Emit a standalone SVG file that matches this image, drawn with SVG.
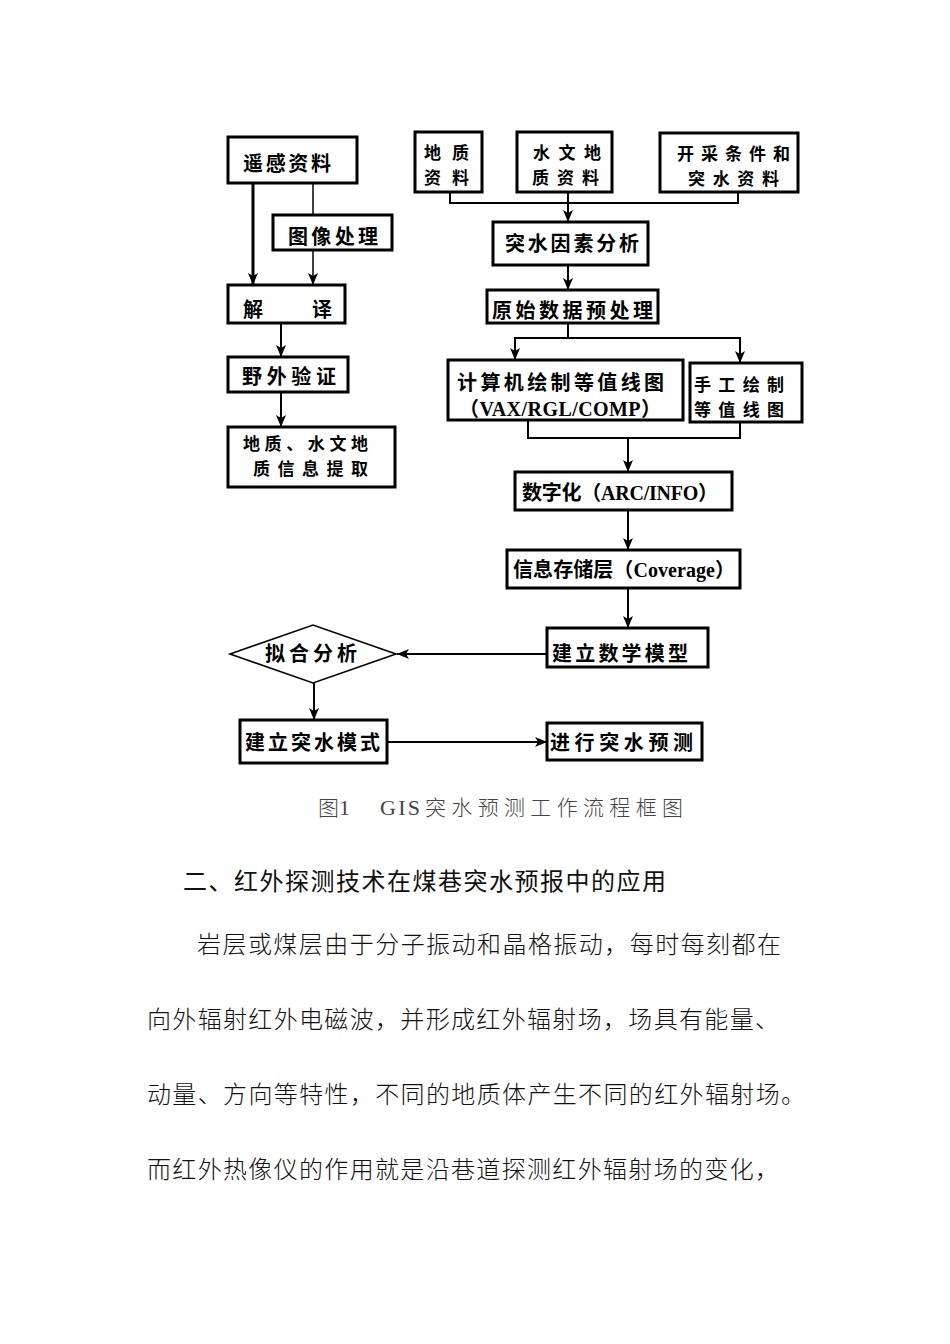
<svg xmlns="http://www.w3.org/2000/svg" width="950" height="1344" viewBox="0 0 950 1344">
<defs>
<style>
.box{fill:#fff;stroke:#000;stroke-width:3}
.dia{fill:#fff;stroke:#000;stroke-width:1.6}
.n{font-family:"Noto Sans CJK SC","Noto Sans CJK TC",sans-serif;font-weight:700;font-size:20px;fill:#000}
.n2{font-family:"Noto Sans CJK SC","Noto Sans CJK TC",sans-serif;font-weight:700;font-size:17px;fill:#000}
.lat{font-family:"Liberation Serif","Noto Sans CJK SC",serif;font-weight:700}
.c{fill:none;stroke:#000;stroke-width:2}
.ca{fill:none;stroke:#000;stroke-width:2;marker-end:url(#ah)}
.thin{stroke-width:1.5}
.thick{stroke-width:3}
.cap{font-family:"Liberation Serif","Noto Sans CJK SC",serif;font-size:22px;fill:#444;font-weight:300}
.capc{font-family:"Noto Sans CJK SC",serif;font-size:21px;fill:#444;font-weight:300}
.h{font-family:"Noto Sans CJK SC",sans-serif;font-size:24px;fill:#111;font-weight:400}
.b{font-family:"Noto Sans CJK SC",sans-serif;font-size:24px;fill:#111;font-weight:300}
</style>
<marker id="ah" markerUnits="userSpaceOnUse" markerWidth="14" markerHeight="12" refX="12" refY="5" orient="auto">
<path d="M0,0 L12,5 L0,10 L3,5 z" fill="#000"/>
</marker>
</defs>
<rect width="950" height="1344" fill="#fff"/>

<g id="connectors">
<line class="ca thick" x1="253" y1="183" x2="253" y2="285"/>
<line class="c thin" x1="313" y1="183" x2="313" y2="215"/>
<line class="ca thin" x1="313" y1="250" x2="313" y2="285"/>
<line class="ca" x1="281" y1="323" x2="281" y2="357"/>
<line class="ca" x1="281" y1="392" x2="281" y2="427"/>
<path class="c" d="M450,192 V203 H738 V192"/>
<line class="ca" x1="568" y1="192" x2="568" y2="222"/>
<line class="ca" x1="568" y1="265" x2="568" y2="290"/>
<line class="c" x1="568" y1="323" x2="568" y2="338"/>
<line class="c" x1="515" y1="338" x2="740" y2="338"/>
<line class="ca" x1="515" y1="337" x2="515" y2="360"/>
<line class="ca" x1="740" y1="337" x2="740" y2="363"/>
<path class="c" d="M528,420 V438 H740 V422"/>
<line class="ca" x1="628" y1="438" x2="628" y2="472"/>
<line class="ca" x1="628" y1="510" x2="628" y2="550"/>
<line class="ca" x1="628" y1="588" x2="628" y2="628"/>
<line class="ca" x1="547" y1="654" x2="397" y2="654"/>
<line class="ca" x1="314" y1="683" x2="314" y2="720"/>
<line class="ca" x1="387" y1="742" x2="547" y2="742"/>
</g>

<g id="n-yaogan"><rect class="box" x="228" y="137" width="129" height="46"/><text class="n" x="243" y="171" textLength="88" lengthAdjust="spacing">遥感资料</text></g>
<g id="n-tuxiang"><rect class="box" x="273" y="215" width="119" height="35"/><text class="n" x="288" y="244" textLength="90" lengthAdjust="spacing">图像处理</text></g>
<g id="n-jieyi"><rect class="box" x="228" y="285" width="117" height="38"/><text class="n" x="243" y="317">解</text><text class="n" x="312" y="317">译</text></g>
<g id="n-yewai"><rect class="box" x="228" y="357" width="120" height="35"/><text class="n" x="242" y="384" textLength="94" lengthAdjust="spacing">野外验证</text></g>
<g id="n-tiqu"><rect class="box" x="228" y="427" width="167" height="60"/><text class="n2" x="243" y="450" textLength="125" lengthAdjust="spacing">地质、水文地</text><text class="n2" x="253" y="475" textLength="115" lengthAdjust="spacing">质信息提取</text></g>

<g id="n-dizhi"><rect class="box" x="415" y="132" width="67" height="60"/><text class="n2" x="424" y="159" textLength="45" lengthAdjust="spacing">地质</text><text class="n2" x="424" y="184" textLength="45" lengthAdjust="spacing">资料</text></g>
<g id="n-shuiwen"><rect class="box" x="517" y="132" width="95" height="60"/><text class="n2" x="533" y="159" textLength="68" lengthAdjust="spacing">水文地</text><text class="n2" x="532" y="184" textLength="67" lengthAdjust="spacing">质资料</text></g>
<g id="n-kaicai"><rect class="box" x="660" y="133" width="138" height="59"/><text class="n2" x="677" y="160" textLength="113" lengthAdjust="spacing">开采条件和</text><text class="n2" x="688" y="185" textLength="91" lengthAdjust="spacing">突水资料</text></g>
<g id="n-yinsu"><rect class="box" x="493" y="222" width="155" height="43"/><text class="n" x="505" y="251" textLength="134" lengthAdjust="spacing">突水因素分析</text></g>
<g id="n-yuanshi"><rect class="box" x="487" y="290" width="171" height="33"/><text class="n" x="492" y="318" textLength="161" lengthAdjust="spacing">原始数据预处理</text></g>
<g id="n-jisuanji"><rect class="box" x="448" y="360" width="235" height="60"/><text class="n" x="457" y="390" font-size="18" textLength="207" lengthAdjust="spacing">计算机绘制等值线图</text><text class="n lat" x="459" y="416" font-size="17" textLength="202" lengthAdjust="spacing">（VAX/RGL/COMP）</text></g>
<g id="n-shougong"><rect class="box" x="690" y="363" width="112" height="59"/><text class="n2" x="694" y="391" textLength="90" lengthAdjust="spacing">手工绘制</text><text class="n2" x="694" y="416" textLength="90" lengthAdjust="spacing">等值线图</text></g>
<g id="n-shuzihua"><rect class="box" x="515" y="472" width="217" height="38"/><text class="n" x="522" y="500" textLength="196" lengthAdjust="spacing">数字化<tspan class="lat">（ARC/INFO）</tspan></text></g>
<g id="n-xinxi"><rect class="box" x="507" y="550" width="233" height="38"/><text class="n" x="513" y="577" textLength="222" lengthAdjust="spacing">信息存储层<tspan class="lat">（Coverage）</tspan></text></g>
<g id="n-shuxue"><rect class="box" x="547" y="628" width="161" height="39"/><text class="n" x="552" y="661" textLength="136" lengthAdjust="spacing">建立数学模型</text></g>
<g id="n-nihe"><polygon class="dia" points="230,654 313,625 396,654 313,683"/><text class="n" x="265" y="661" textLength="92" lengthAdjust="spacing">拟合分析</text></g>
<g id="n-moshi"><rect class="box" x="240" y="720" width="147" height="43"/><text class="n" x="245" y="750" textLength="135" lengthAdjust="spacing">建立突水模式</text></g>
<g id="n-yuce"><rect class="box" x="547" y="723" width="155" height="37"/><text class="n" x="550" y="750" textLength="143" lengthAdjust="spacing">进行突水预测</text></g>

<g id="caption">
<text class="capc" x="318" y="815">图<tspan class="cap">1</tspan></text>
<text class="cap" x="380" y="815" textLength="40" lengthAdjust="spacing">GIS</text>
<text class="capc" x="425" y="815" textLength="258" lengthAdjust="spacing">突水预测工作流程框图</text>
</g>

<g id="body">
<text class="h" x="183" y="890" textLength="483" lengthAdjust="spacing">二、红外探测技术在煤巷突水预报中的应用</text>
<text class="b" x="197" y="953" textLength="584" lengthAdjust="spacing">岩层或煤层由于分子振动和晶格振动，每时每刻都在</text>
<text class="b" x="147" y="1028" textLength="632" lengthAdjust="spacing">向外辐射红外电磁波，并形成红外辐射场，场具有能量、</text>
<text class="b" x="147" y="1103" textLength="658" lengthAdjust="spacing">动量、方向等特性，不同的地质体产生不同的红外辐射场。</text>
<text class="b" x="147" y="1178" textLength="632" lengthAdjust="spacing">而红外热像仪的作用就是沿巷道探测红外辐射场的变化，</text>
</g>
</svg>
